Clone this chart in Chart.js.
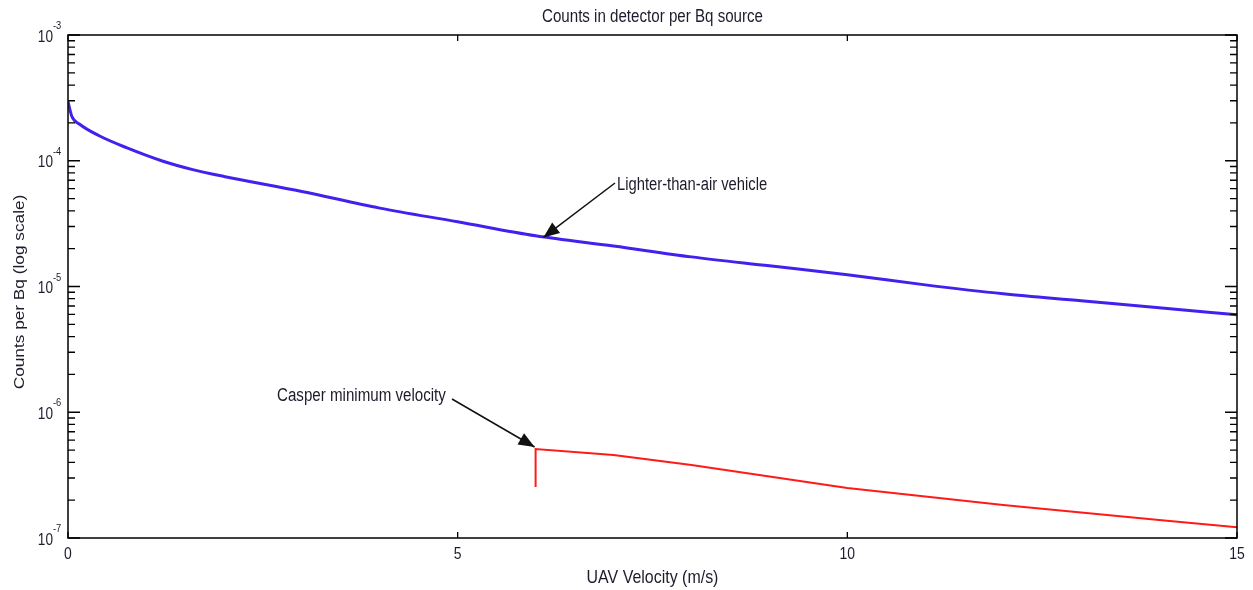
<!doctype html>
<html>
<head>
	<meta charset="utf-8">
	<title>Counts in detector per Bq source</title>
	<style>
		html, body { margin: 0; padding: 0; background: #fff; }
		#holder { width: 1253px; height: 590px; }
	</style>
</head>
<body>
	<div id="holder">
		<canvas id="chart-area" width="1253" height="590"></canvas>
	</div>
	<script src="https://cdn.jsdelivr.net/npm/chart.js@4/dist/chart.umd.min.js"></script>
	<script>
	// values
	var lighterX = [0, 0.05, 0.15, 0.4, 0.75, 1.2, 1.6, 2, 3, 4, 5, 6, 7, 8, 9, 10, 11, 12, 13, 14, 15];
	var lighterY = [2.95e-4, 2.25e-4, 1.95e-4, 1.58e-4, 1.27e-4, 1.0e-4, 8.5e-5, 7.5e-5, 5.7e-5, 4.2e-5, 3.27e-5, 2.53e-5, 2.1e-5, 1.72e-5, 1.46e-5, 1.24e-5, 1.03e-5, 8.75e-6, 7.7e-6, 6.77e-6, 5.96e-6];
	var casperX = [6, 6, 7, 8, 10, 12, 14, 15];
	var casperY = [2.55e-7, 5.1e-7, 4.57e-7, 3.8e-7, 2.5e-7, 1.83e-7, 1.39e-7, 1.22e-7];
	var xTicks = [0, 5, 10, 15];
	var yDecades = [-7, -6, -5, -4, -3];

	var FONT = '"Liberation Sans", Arial, sans-serif';
	var TXT = '#1c1c2c';

	var toPoints = function(xs, ys) {
		return xs.map(function(x, i) { return { x: x, y: ys[i] }; });
	};

	// condensed look of the original text: squeeze horizontally
	var narrowText = function(ctx, text, x, y, size, align, sx) {
		ctx.save();
		ctx.translate(x, y);
		ctx.scale(sx, 1);
		ctx.font = size + 'px ' + FONT;
		ctx.textAlign = align;
		ctx.textBaseline = 'middle';
		ctx.fillText(text, 0, 0);
		ctx.restore();
	};

	var arrow = function(ctx, x1, y1, x2, y2) {
		ctx.save();
		ctx.strokeStyle = '#111';
		ctx.fillStyle = '#111';
		ctx.lineWidth = 1.5;
		ctx.beginPath();
		ctx.moveTo(x1, y1);
		ctx.lineTo(x2, y2);
		ctx.stroke();
		var a = Math.atan2(y2 - y1, x2 - x1);
		var L = 16, W = 6.5;
		ctx.beginPath();
		ctx.moveTo(x2, y2);
		ctx.lineTo(x2 - L * Math.cos(a) + W * Math.sin(a), y2 - L * Math.sin(a) - W * Math.cos(a));
		ctx.lineTo(x2 - L * Math.cos(a) - W * Math.sin(a), y2 - L * Math.sin(a) + W * Math.cos(a));
		ctx.closePath();
		ctx.fill();
		ctx.restore();
	};

	// matlab style box, inward ticks, labels and annotations
	var matlabAxes = {
		id: 'matlabAxes',
		afterDraw: function(chart) {
			var ctx = chart.ctx;
			var a = chart.chartArea;
			var xs = chart.scales.x, ys = chart.scales.y;
			ctx.save();
			ctx.strokeStyle = '#000';
			ctx.lineWidth = 1.5;
			ctx.strokeRect(a.left, a.top, a.right - a.left, a.bottom - a.top);

			ctx.lineWidth = 1.3;
			ctx.beginPath();
			xTicks.forEach(function(t) {
				var px = xs.getPixelForValue(t);
				ctx.moveTo(px, a.bottom); ctx.lineTo(px, a.bottom - 6);
				ctx.moveTo(px, a.top); ctx.lineTo(px, a.top + 6);
			});
			yDecades.forEach(function(d, i) {
				var py = ys.getPixelForValue(Math.pow(10, d));
				ctx.moveTo(a.left, py); ctx.lineTo(a.left + 12, py);
				ctx.moveTo(a.right, py); ctx.lineTo(a.right - 12, py);
				if (i < yDecades.length - 1) {
					for (var m = 2; m < 10; m++) {
						var pm = ys.getPixelForValue(m * Math.pow(10, d));
						ctx.moveTo(a.left, pm); ctx.lineTo(a.left + 7, pm);
						ctx.moveTo(a.right, pm); ctx.lineTo(a.right - 7, pm);
					}
				}
			});
			ctx.stroke();

			ctx.fillStyle = TXT;
			xTicks.forEach(function(t) {
				narrowText(ctx, String(t), xs.getPixelForValue(t), a.bottom + 16, 17, 'center', 0.82);
			});
			yDecades.forEach(function(d) {
				var py = ys.getPixelForValue(Math.pow(10, d));
				narrowText(ctx, '10', a.left - 15, py + 2, 17, 'right', 0.8);
				narrowText(ctx, String(d), a.left - 15, py - 9, 11, 'left', 0.85);
			});

			var cx = (a.left + a.right) / 2;
			narrowText(ctx, 'Counts in detector per Bq source', cx, 17, 18, 'center', 0.84);
			narrowText(ctx, 'UAV Velocity (m/s)', cx, 578, 19, 'center', 0.84);
			ctx.save();
			ctx.translate(20, 292);
			ctx.rotate(-Math.PI / 2);
			narrowText(ctx, 'Counts per Bq (log scale)', 0, 0, 15, 'center', 1.15);
			ctx.restore();

			narrowText(ctx, 'Lighter-than-air vehicle', 617, 185, 18, 'left', 0.82);
			narrowText(ctx, 'Casper minimum velocity', 277, 396, 18, 'left', 0.84);
			arrow(ctx, 615, 183, xs.getPixelForValue(6.1), ys.getPixelForValue(2.5e-5) + 1);
			arrow(ctx, 452, 399, xs.getPixelForValue(6.0) - 1, ys.getPixelForValue(5.1e-7) - 2);
			ctx.restore();
		}
	};

	var config = {
		type: 'line',
		data: {
			datasets: [{
				label: 'Lighter-than-air vehicle',
				data: toPoints(lighterX, lighterY),
				borderColor: '#4420ee',
				borderWidth: 3,
				pointRadius: 0,
				cubicInterpolationMode: 'monotone'
			}, {
				label: 'Casper minimum velocity',
				data: toPoints(casperX, casperY),
				borderColor: '#ff1a1a',
				borderWidth: 2,
				pointRadius: 0,
				tension: 0
			}]
		},
		options: {
			responsive: false,
			animation: false,
			layout: { padding: { left: 68, right: 16, top: 35, bottom: 52 } },
			plugins: { legend: { display: false }, tooltip: { enabled: false }, title: { display: false } },
			scales: {
				x: { type: 'linear', min: 0, max: 15, display: false },
				y: { type: 'logarithmic', min: 1e-7, max: 1e-3, display: false }
			}
		},
		plugins: [matlabAxes]
	};

	var ctx = document.getElementById('chart-area').getContext('2d');
	window.myChart = new Chart(ctx, config);
	</script>
</body>
</html>
